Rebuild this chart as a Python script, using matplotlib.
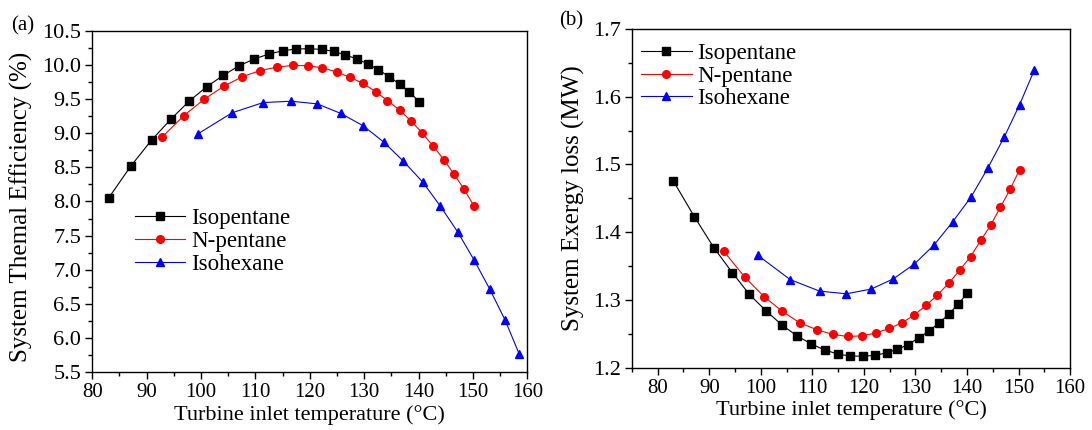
import matplotlib
matplotlib.use("Agg")
import matplotlib.pyplot as plt
from matplotlib.ticker import MultipleLocator, FormatStrFormatter

plt.rcParams["font.family"] = ["Liberation Serif", "DejaVu Serif"]

# temperature di ingresso turbina (°C) per ciascun fluido
t_isopentane = [83.0, 87.1, 90.9, 94.5, 97.8, 101.0, 104.1, 107.0, 109.8, 112.4, 115.0, 117.4,
                119.8, 122.2, 124.4, 126.5, 128.6, 130.6, 132.6, 134.6, 136.5, 138.3, 140.1]
t_npentane = [92.8, 96.85, 100.6, 104.2, 107.6, 110.9, 114.0, 116.9, 119.6, 122.3, 124.9, 127.4,
              129.8, 132.1, 134.25, 136.5, 138.6, 140.7, 142.7, 144.65, 146.5, 148.35, 150.2]
t_isohexane = [99.4, 105.7, 111.4, 116.6, 121.4, 125.7, 129.8, 133.6, 137.2, 140.8, 144.0, 147.2,
               150.2, 153.1, 155.9, 158.5]

# rendimento termico del sistema (%)
eff_isopentane = [8.05, 8.52, 8.90, 9.21, 9.47, 9.68, 9.85, 9.99, 10.09, 10.16, 10.21, 10.235,
                  10.24, 10.23, 10.20, 10.15, 10.09, 10.02, 9.93, 9.83, 9.72, 9.61, 9.46]
eff_npentane = [8.94, 9.26, 9.50, 9.69, 9.83, 9.92, 9.97, 9.995, 9.99, 9.96, 9.90, 9.82,
                9.73, 9.61, 9.48, 9.34, 9.18, 9.00, 8.81, 8.61, 8.40, 8.18, 7.93]
eff_isohexane = [8.99, 9.30, 9.45, 9.47, 9.43, 9.29, 9.11, 8.87, 8.59, 8.28, 7.93, 7.55,
                 7.14, 6.71, 6.26, 5.76]

# perdita di exergia del sistema (MW)
ex_isopentane = [1.476, 1.423, 1.377, 1.340, 1.308, 1.284, 1.263, 1.247, 1.235, 1.226, 1.220, 1.217,
                 1.217, 1.218, 1.222, 1.227, 1.234, 1.244, 1.254, 1.266, 1.279, 1.294, 1.310]
ex_npentane = [1.372, 1.334, 1.305, 1.283, 1.266, 1.256, 1.249, 1.246, 1.247, 1.251, 1.258, 1.266,
               1.278, 1.292, 1.307, 1.325, 1.344, 1.364, 1.388, 1.411, 1.437, 1.463, 1.492]
ex_isohexane = [1.366, 1.330, 1.313, 1.309, 1.316, 1.331, 1.353, 1.381, 1.415, 1.452, 1.494, 1.540,
                1.588, 1.640]

fluids = ["Isopentane", "N-pentane", "Isohexane"]
colors = ["black", "red", "blue"]
markers = ["s", "o", "^"]


#Funzione per lo stile comune degli assi
def style_axis(ax, xmin, ymin, ymax, ymajor):
    ax.set_xlim(xmin, 160)
    ax.set_ylim(ymin, ymax)
    ax.xaxis.set_major_locator(MultipleLocator(10))
    ax.xaxis.set_minor_locator(MultipleLocator(5))
    ax.yaxis.set_major_locator(MultipleLocator(ymajor))
    ax.yaxis.set_minor_locator(MultipleLocator(ymajor / 2))
    ax.yaxis.set_major_formatter(FormatStrFormatter("%.1f"))
    ax.tick_params(which="both", direction="out", top=False, right=False, width=1)
    ax.tick_params(axis="x", labelsize=15)
    ax.tick_params(axis="y", labelsize=16)
    ax.tick_params(which="major", length=5, pad=3)
    ax.tick_params(which="minor", length=3)
    for s in ax.spines.values():
        s.set_linewidth(1)
    ax.set_xlabel("Turbine inlet temperature (°C)", fontsize=16, labelpad=2)


def add_legend(ax, x, y):
    ax.legend(loc="center left", bbox_to_anchor=(x, y), frameon=False, fontsize=16.5,
              borderpad=0, borderaxespad=0, handlelength=2.2, handletextpad=0.25,
              labelspacing=0.08)


fig = plt.figure(figsize=(10.92, 4.30), dpi=100)
ax1 = fig.add_axes([0.0845, 0.135, 0.3985, 0.793])
ax2 = fig.add_axes([0.5787, 0.145, 0.4012, 0.7877])

t_all = [t_isopentane, t_npentane, t_isohexane]
eff_all = [eff_isopentane, eff_npentane, eff_isohexane]
ex_all = [ex_isopentane, ex_npentane, ex_isohexane]

for name, c, m, t, eff, ex in zip(fluids, colors, markers, t_all, eff_all, ex_all):
    ax1.plot(t, eff, color=c, marker=m, markersize=5.5, linewidth=0.8, label=name)
    ax2.plot(t[:len(ex)], ex, color=c, marker=m, markersize=5.5, linewidth=0.8, label=name)

style_axis(ax1, 80, 5.5, 10.5, 0.5)
ax1.set_ylabel("System Themal Efficiency (%)", fontsize=18)
ax1.yaxis.set_label_coords(-0.136, 0.484)
add_legend(ax1, 0.098, 0.382)

style_axis(ax2, 75, 1.2, 1.7, 0.1)
ax2.set_ylabel("System Exergy loss (MW)", fontsize=18)
ax2.yaxis.set_label_coords(-0.108, 0.5)
add_legend(ax2, 0.021, 0.861)

fig.text(23 / 1092, 1 - 26 / 430, "(a)", fontsize=15, ha="center", va="center")
fig.text(571 / 1092, 1 - 21 / 430, "(b)", fontsize=15, ha="center", va="center")

fig.savefig("out.png", dpi=100)
